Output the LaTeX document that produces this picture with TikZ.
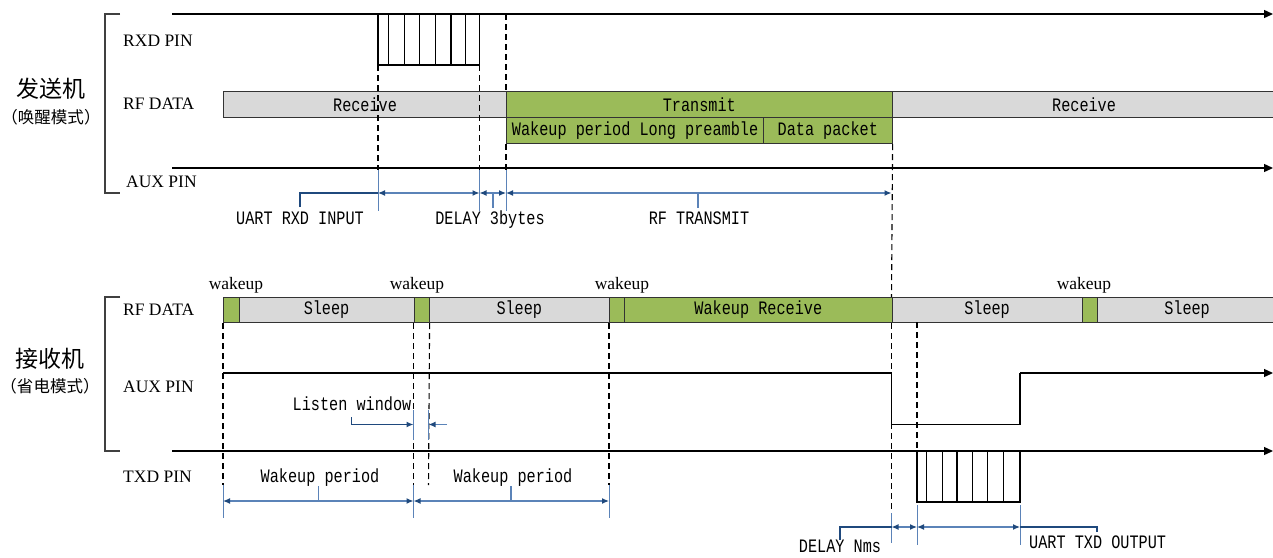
\documentclass[tikz,border=0pt]{standalone}
\usepackage{fontspec}
\setmainfont{Liberation Serif}
\newfontfamily\monof[FakeStretch=0.8]{Liberation Mono}
\newfontfamily\cjkf{Noto Sans CJK SC}
\usetikzlibrary{arrows.meta}
\definecolor{grayfill}{HTML}{D9D9D9}
\definecolor{greenfill}{HTML}{9BBB59}
\definecolor{dblue}{HTML}{1F497D}
\definecolor{lblue}{HTML}{5B83B8}
\tikzset{
  sig/.style={line width=1.3pt, -{Triangle[length=9pt,width=8pt]}},
  plain/.style={line width=1.3pt},
  brk/.style={line width=1.1pt, black!75},
  gbox/.style={draw=black!80, line width=1.1pt, fill=grayfill, inner sep=0, anchor=north west,
    font=\monof\fontsize{19}{22}\selectfont},
  grbox/.style={gbox, fill=greenfill},
  dsh/.style={dash pattern=on 6pt off 4pt, line width=1.1pt},
  ext/.style={lblue, line width=1pt},
  dimarr/.style={lblue, line width=1.2pt,
    {Latex[length=7pt,width=6pt,color=dblue]}-{Latex[length=7pt,width=6pt,color=dblue]}},
  lead/.style={dblue, line width=1.4pt},
  lbl/.style={font=\fontsize{17.5}{20}\selectfont, anchor=mid west, inner sep=0, yshift=-4pt},
  wk/.style={font=\fontsize{17.5}{20}\selectfont, anchor=mid, inner sep=0, yshift=-4pt},
  mono/.style={font=\monof\fontsize{19}{22}\selectfont, inner sep=0, anchor=mid, yshift=-4pt},
  cjkbig/.style={font=\cjkf\fontsize{23}{25}\selectfont, inner sep=0},
  cjksmall/.style={font=\cjkf\fontsize{16.5}{18}\selectfont, inner sep=0},
}
\begin{document}
\begin{tikzpicture}[x=1pt,y=-1pt]
\useasboundingbox (0,0) rectangle (1273,557);

% ---------------- transmitter (top) ----------------
\node[cjkbig] (tname) at (51,89) {发送机};
\node[cjksmall] (tmode) at (51,117) {（唤醒模式）};
\draw[brk] (120,14) -- (105,14) -- (105,193) -- (120,193);
\node[lbl] (lrxd) at (123,40) {RXD PIN};
\node[lbl] (lrf1) at (123,103) {RF DATA};
\node[lbl] (laux1) at (126,181) {AUX PIN};

% RXD pin
\draw[sig] (172,14) -- (1273,14);
\draw[plain] (378,14) -- (378,65) -- (479.5,65) -- (479.5,14);
\foreach \x in {388.2,404.6,419.6,435.7,451.1,465.4}
  \draw[line width=1.3pt] (\x,14) -- (\x,65);

% RF DATA
\node[gbox, minimum width=283pt, minimum height=26pt] (rx1) at (223,91) {Receive};
\node[grbox, minimum width=385.5pt, minimum height=26pt] (tx) at (506,91) {Transmit};
\node[grbox, minimum width=257pt, minimum height=26pt] (pre) at (506,117) {Wakeup period Long preamble};
\node[grbox, minimum width=128.5pt, minimum height=26pt] (pkt) at (763,117) {Data packet};
\node[gbox, minimum width=384pt, minimum height=26pt] (rx2) at (891.5,91) {Receive};

% AUX pin
\draw[sig] (172,168) -- (1273,168);

% dashed guides
\draw[dsh] (378,65) -- (378,170);
\draw[ext] (378,170) -- (378,211);
\draw[dsh] (479.5,65) -- (479.5,170);
\draw[ext] (479.5,170) -- (479.5,211);
\draw[dsh] (506,14) -- (tx.north west);
\draw[dsh] (pre.south west) -- (506,170);
\draw[ext] (506,170) -- (506,211);
\draw[dsh] (pkt.south east) -- (891.5,297);

% dimensions top
\coordinate (d1a) at (378,193);
\coordinate (d1b) at (479.5,193);
\coordinate (d1c) at (506,193);
\coordinate (d1d) at (891.5,193);
\draw[dimarr] (d1a) -- (d1b);
\draw[dimarr] (d1b) -- (d1c);
\draw[dimarr] (d1c) -- (d1d);
\draw[ext, line width=1.2pt] (493,193) -- (493,208);
\draw[ext, line width=1.2pt] (698,193) -- (698,208);
\draw[lead] (300,207) -- (300,193) -- (d1a);
\node[mono] (t1) at (300,218) {UART RXD INPUT};
\node[mono] (t2) at (490,218) {DELAY 3bytes};
\node[mono] (t3) at (699,218) {RF TRANSMIT};

% ---------------- receiver (bottom) ----------------
\node[cjkbig] (rname) at (50,359) {接收机};
\node[cjksmall] (rmode) at (50,386) {（省电模式）};
\draw[brk] (120,297) -- (105,297) -- (105,451) -- (120,451);
\node[lbl] (lrf2) at (123,309) {RF DATA};
\node[lbl] (laux2) at (123,386) {AUX PIN};
\node[lbl] (ltxd) at (123,476) {TXD PIN};

\node[wk] (wk1) at (236,283) {wakeup};
\node[wk] (wk2) at (417,283) {wakeup};
\node[wk] (wk3) at (622,283) {wakeup};
\node[wk] (wk4) at (1084,283) {wakeup};

\node[grbox, minimum width=15.5pt, minimum height=25pt] (w1) at (223,297) {};
\node[gbox, minimum width=175pt, minimum height=25pt] (s1) at (238.5,297) {Sleep};
\node[grbox, minimum width=15pt, minimum height=25pt] (w2) at (413.5,297) {};
\node[gbox, minimum width=180.5pt, minimum height=25pt] (s2) at (428.5,297) {Sleep};
\node[grbox, minimum width=15pt, minimum height=25pt] (w3) at (609,297) {};
\node[grbox, minimum width=267.5pt, minimum height=25pt] (wr) at (624,297) {Wakeup Receive};
\node[gbox, minimum width=190pt, minimum height=25pt] (s3) at (891.5,297) {Sleep};
\node[grbox, minimum width=15.5pt, minimum height=25pt] (w4) at (1081.5,297) {};
\node[gbox, minimum width=179pt, minimum height=25pt] (s4) at (1097,297) {Sleep};

% AUX pin (receiver)
\draw[plain] (223,373) -- (891.5,373) -- (891.5,424.5) -- (1020,424.5) -- (1020,373);
\draw[sig] (1020,373) -- (1273,373);

% TXD pin
\draw[sig] (172,451) -- (1273,451);
\draw[plain] (917,451) -- (917,502) -- (1020,502) -- (1020,451);
\foreach \x in {926.7,942.3,957,972.3,987.7,1003.3}
  \draw[line width=1.3pt] (\x,451) -- (\x,502);

% dashed guides (receiver)
\draw[dsh] (w1.south west) -- (223,485);
\draw[ext] (223,485) -- (223,518);
\draw[dsh] (w2.south west) -- (413.5,485);
\draw[ext] (413.5,485) -- (413.5,518);
\draw[dsh] (w2.south east) -- (428.5,485);
\draw[dsh] (w3.south west) -- (609,485);
\draw[ext] (609,485) -- (609,518);
\draw[dsh] (s3.south west) -- (891.5,513);
\draw[ext] (891.5,513) -- (891.5,543);
\draw[dsh] (917,322) -- (917,451);
\draw[ext] (917,505) -- (917,545);
\draw[ext] (1020,505) -- (1020,545);
\draw[ext] (413.5,410) -- (413.5,440);
\draw[ext] (428.5,410) -- (428.5,440);

% listen window
\node[mono] (tlw) at (352,404) {Listen window};
\draw[lead, -{Latex[length=7pt,width=6pt]}] (351.5,417) -- (351.5,424.5) -- (413.5,424.5);
\draw[ext, line width=1.2pt, -{Latex[length=7pt,width=6pt,color=dblue]}] (447,424.5) -- (428.5,424.5);

% wakeup period dimensions
\coordinate (d2a) at (223,501);
\coordinate (d2b) at (413.5,501);
\coordinate (d2c) at (609,501);
\draw[dimarr] (d2a) -- (d2b);
\draw[dimarr] (d2b) -- (d2c);
\draw[ext, line width=1.2pt] (318.5,486) -- (318.5,501);
\draw[ext, line width=1.2pt] (511,486) -- (511,501);
\node[mono] (twp1) at (320,476) {Wakeup period};
\node[mono] (twp2) at (513,476) {Wakeup period};

% output dimensions
\coordinate (d3a) at (891.5,527);
\coordinate (d3b) at (917,527);
\coordinate (d3c) at (1020,527);
\draw[dimarr] (d3a) -- (d3b);
\draw[dimarr] (d3b) -- (d3c);
\draw[lead] (840,540) -- (840,527) -- (d3a);
\draw[lead] (d3c) -- (1097,527) -- (1097,532);
\node[mono] (tdn) at (840,546.5) {DELAY Nms};
\node[mono, anchor=mid west] (tuo) at (1029,542) {UART TXD OUTPUT};
\end{tikzpicture}
\end{document}
